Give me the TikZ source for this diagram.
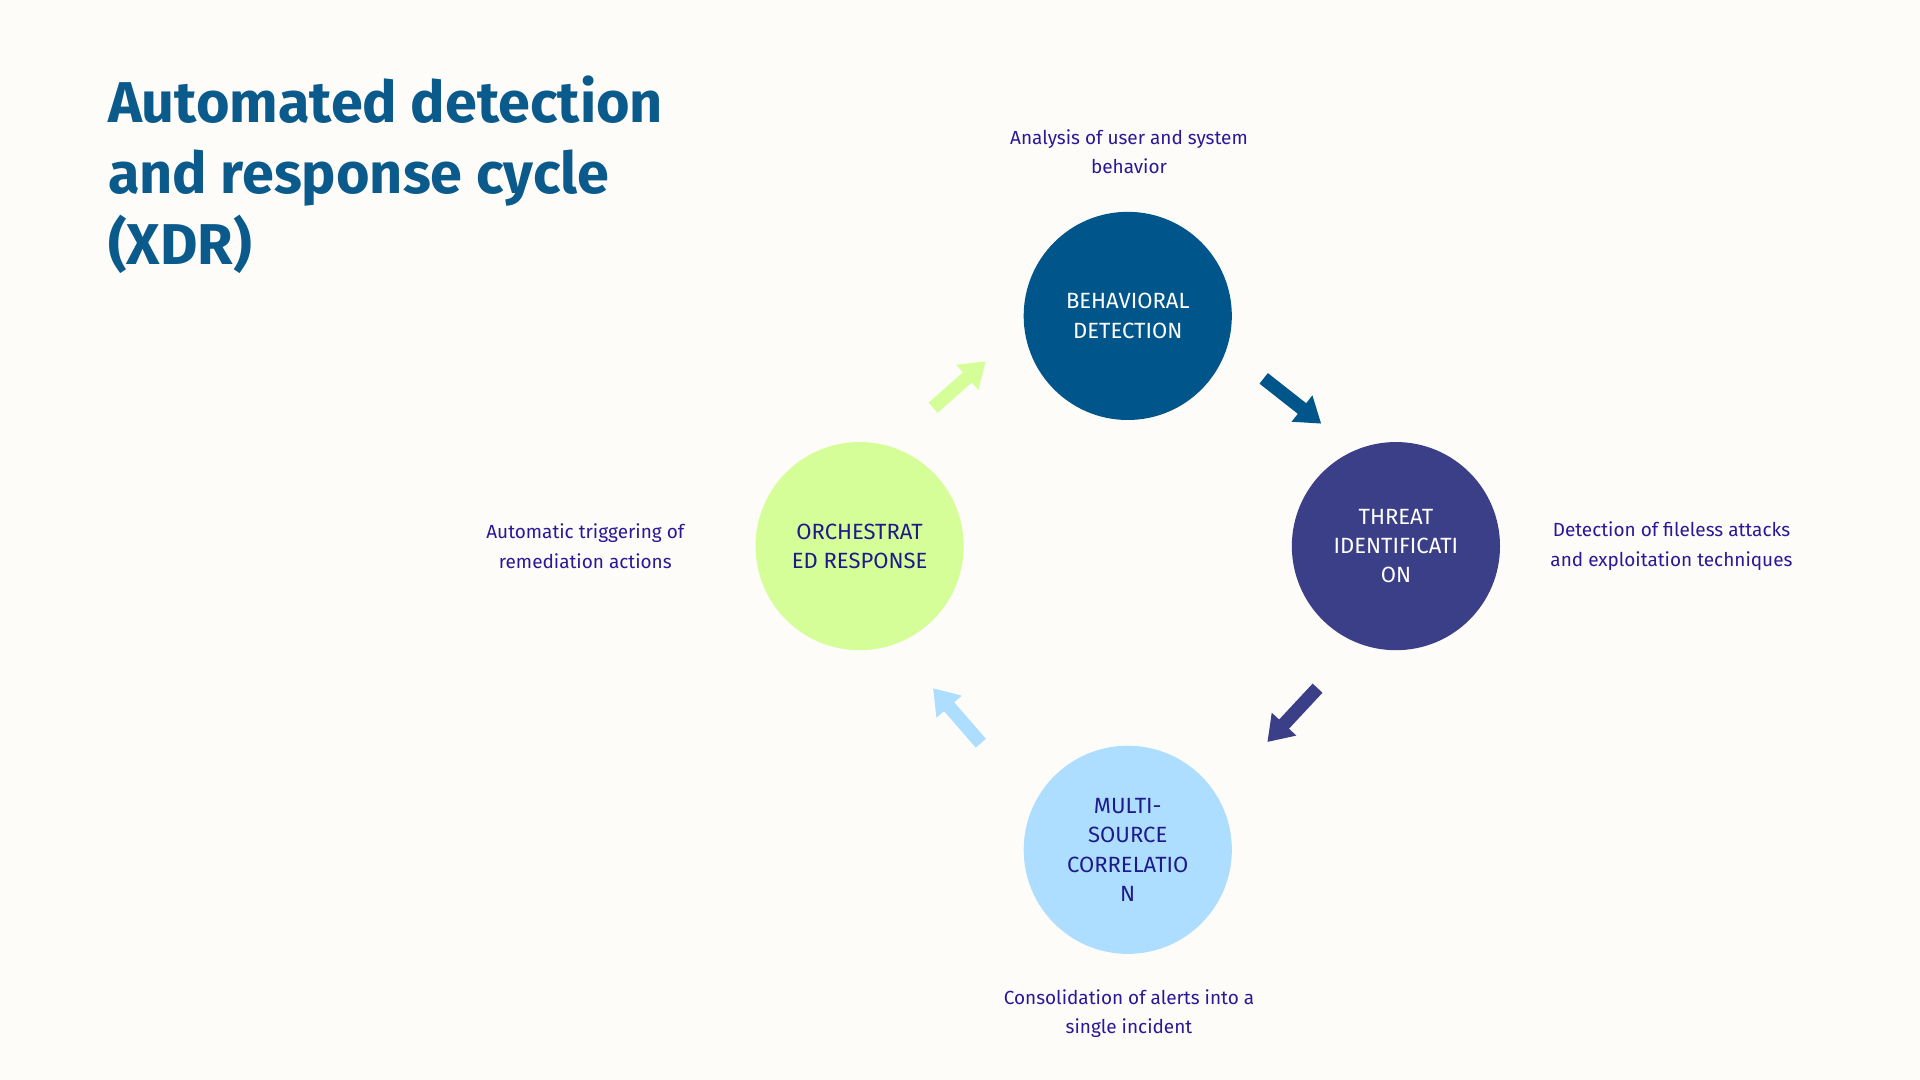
\documentclass[tikz,border=0pt]{standalone}
\usepackage{fontspec}
\setmainfont{Fira Sans}
\usetikzlibrary{arrows.meta}
\definecolor{bg}{HTML}{FDFCF8}
\definecolor{ttl}{HTML}{0B5A8C}
\definecolor{cA}{HTML}{00568A}
\definecolor{cB}{HTML}{3B3F88}
\definecolor{cC}{HTML}{AEDEFF}
\definecolor{cD}{HTML}{D5FE98}
\definecolor{lbl}{HTML}{2B1896}
\definecolor{dk}{HTML}{1E1A8A}
\begin{document}
\begin{tikzpicture}[x=1pt,y=-1pt,
 circ/.style={circle,minimum size=170pt,inner sep=0pt,align=center,font=\fontsize{18}{24}\selectfont},
 lbl/.style={text=lbl,align=center,font=\fontsize{15.5}{24}\selectfont},
 blk/.style={line width=11pt,-{Triangle[length=20pt,width=26pt]}}]
\fill[bg] (0,0) rectangle (1568,882);
\useasboundingbox (0,0) rectangle (1568,882);
\node[anchor=north west,text=ttl,align=left,font=\bfseries\fontsize{47}{58}\selectfont,inner sep=0pt] (title) at (88,62) {Automated detection\\and response cycle\\(XDR)};
\node[circ,fill=cA,text=white] (a) at (921,258) {BEHAVIORAL\\DETECTION};
\node[circ,fill=cB,text=white] (b) at (1140,446) {THREAT\\IDENTIFICATI\\ON};
\node[circ,fill=cC,text=dk] (c) at (921,694) {MULTI-\\SOURCE\\CORRELATIO\\N};
\node[circ,fill=cD,text=dk] (d) at (702,446) {ORCHESTRAT\\ED RESPONSE};
\node[lbl] (la) at (922,124) {Analysis of user and system\\behavior};
\node[lbl] (lb) at (1365,446) {Detection of fileless attacks\\and exploitation techniques};
\node[lbl] (lc) at (922,828) {Consolidation of alerts into a\\single incident};
\node[lbl] (ld) at (478,446) {Automatic triggering of\\remediation actions};
\coordinate (a1) at (762,333); \coordinate (a2) at (805,295);
\coordinate (b1) at (1032,309); \coordinate (b2) at (1079,346);
\coordinate (c1) at (1076,562); \coordinate (c2) at (1035,606);
\coordinate (d1) at (801,607); \coordinate (d2) at (762,562);
\draw[blk,cD] (a1) -- (a2);
\draw[blk,cA] (b1) -- (b2);
\draw[blk,cB] (c1) -- (c2);
\draw[blk,cC] (d1) -- (d2);
\end{tikzpicture}
\end{document}
